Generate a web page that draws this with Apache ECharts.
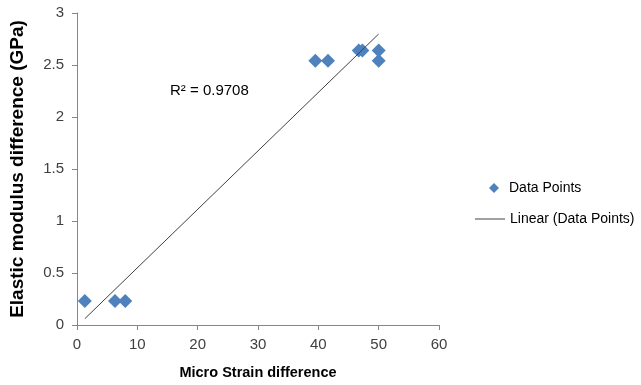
<!DOCTYPE html>
<html lang="en">
<head>
    <meta charset="UTF-8" />
    <title>Elastic modulus vs micro strain</title>
    <script src="https://cdn.jsdelivr.net/npm/echarts@6/dist/echarts.min.js"></script>
</head>
<body style="margin: 0">
    <div id="chart" style="width: 641px; height: 385px"></div>
    <script>
        // micro strain difference (x) and elastic modulus difference in GPa (y)
        var strainDiff = [1.3, 6.3, 8.0, 39.5, 41.6, 46.7, 47.3, 50.0, 50.0];
        var modulusDiff = [0.23, 0.23, 0.23, 2.54, 2.54, 2.64, 2.64, 2.64, 2.54];
        var rSquaredText = "R² = 0.9708";

        var points = [];
        for (var i = 0; i < strainDiff.length; i++) {
            points.push([strainDiff[i], modulusDiff[i]]);
        }

        // least squares fit, drawn from min x to max x like Excel's trendline
        var n = strainDiff.length, mx = 0, my = 0;
        for (var i = 0; i < n; i++) { mx += strainDiff[i]; my += modulusDiff[i]; }
        mx /= n; my /= n;
        var sxy = 0, sxx = 0;
        for (var i = 0; i < n; i++) {
            sxy += (strainDiff[i] - mx) * (modulusDiff[i] - my);
            sxx += (strainDiff[i] - mx) * (strainDiff[i] - mx);
        }
        var slope = sxy / sxx, intercept = my - slope * mx;
        var xMin = Math.min.apply(null, strainDiff), xMax = Math.max.apply(null, strainDiff);
        var fitLine = [[xMin, intercept + slope * xMin], [xMax, intercept + slope * xMax]];

        var font = "'Liberation Sans', Arial, sans-serif";
        var axisGray = "#868686";
        var blue = "#4F81BD";

        var mCharts = echarts.init(document.getElementById("chart"));
        var option = {
            animation: false,
            textStyle: { fontFamily: font },
            grid: { left: 74, right: 202, top: 13, bottom: 58 },
            xAxis: {
                type: "value",
                min: 0, max: 60, interval: 10,
                name: "Micro Strain difference",
                nameLocation: "middle",
                nameGap: 40,
                nameTextStyle: { fontSize: 14.5, fontWeight: "bold", color: "#000" },
                axisLine: { show: true, lineStyle: { color: axisGray } },
                axisTick: { show: true, length: 5, lineStyle: { color: axisGray } },
                axisLabel: { fontSize: 15, color: "#404040", margin: 12 },
                splitLine: { show: false }
            },
            yAxis: {
                type: "value",
                min: 0, max: 3, interval: 0.5,
                name: "Elastic modulus difference (GPa)",
                nameLocation: "middle",
                nameGap: 50,
                nameTextStyle: { fontSize: 19, fontWeight: "bold", color: "#000" },
                axisLine: { show: true, lineStyle: { color: axisGray } },
                axisTick: { show: true, length: 5, lineStyle: { color: axisGray } },
                axisLabel: { fontSize: 15, color: "#404040", margin: 13 },
                splitLine: { show: false }
            },
            legend: [
                {
                    data: [{ name: "Data Points", icon: "diamond" }],
                    left: 484, top: 176,
                    itemWidth: 10, itemHeight: 10,
                    textStyle: { fontSize: 14, color: "#000", padding: [0, 0, 0, 5] }
                },
                {
                    data: [{ name: "Linear (Data Points)", icon: "rect", itemStyle: { color: "#404040" } }],
                    left: 470, top: 207,
                    itemWidth: 30, itemHeight: 1,
                    textStyle: { fontSize: 14, color: "#000" }
                }
            ],
            series: [
                {
                    name: "Data Points",
                    type: "scatter",
                    symbol: "diamond",
                    symbolSize: [14, 14],
                    itemStyle: { color: blue, opacity: 1 },
                    data: points
                },
                {
                    name: "Linear (Data Points)",
                    type: "line",
                    symbol: "none",
                    itemStyle: { color: "#404040" },
                    lineStyle: { color: "#404040", width: 1 },
                    data: fitLine,
                    z: 3
                }
            ],
            graphic: [
                {
                    type: "text",
                    left: 170, top: 83,
                    style: { text: rSquaredText, fontSize: 15, fontFamily: font, fill: "#000" }
                }
            ]
        };
        mCharts.setOption(option);
    </script>
</body>
</html>
